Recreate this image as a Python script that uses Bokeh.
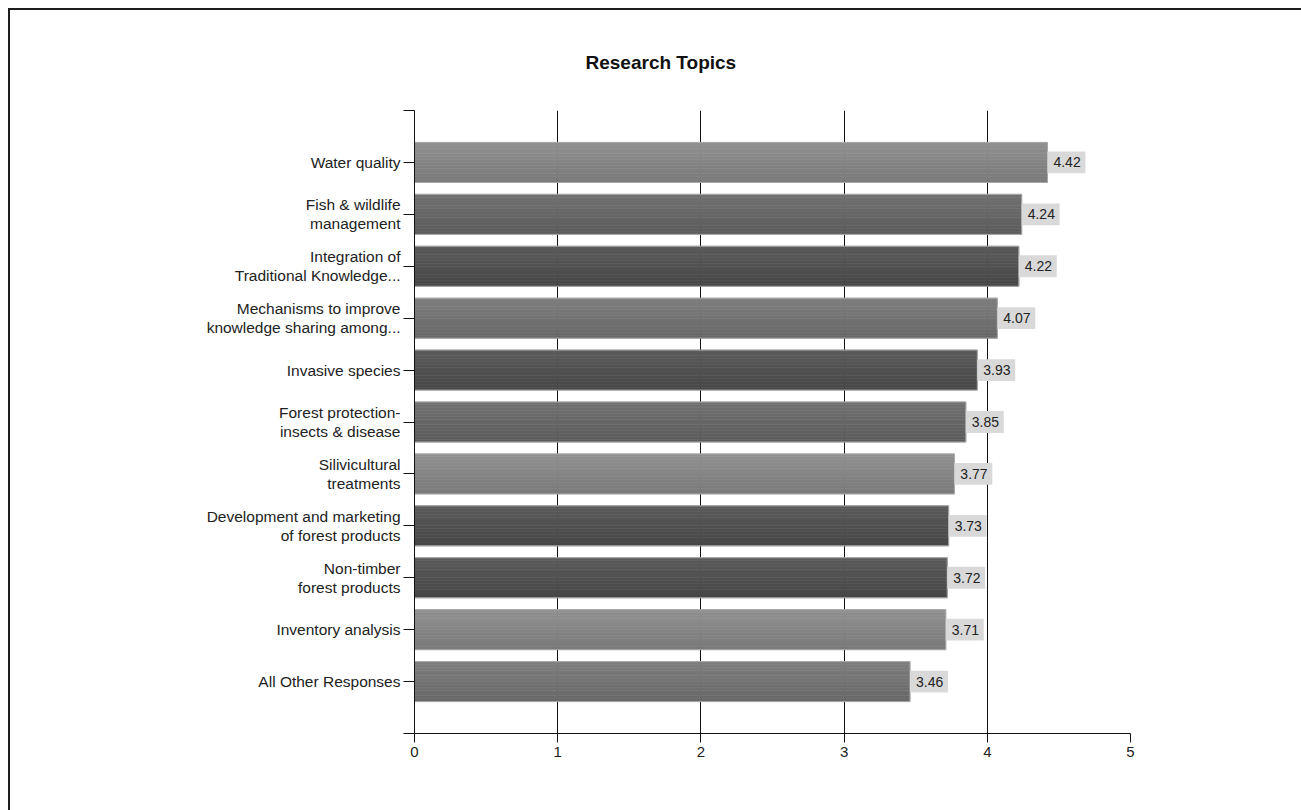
from bokeh.plotting import figure
from bokeh.models import ColumnDataSource, Range1d, FixedTicker
from bokeh.core.properties import value
from bokeh.embed import file_html
from bokeh.resources import INLINE

# Survey topics (top to bottom) and their mean ratings
topics = [
    "Water quality",
    "Fish & wildlife\nmanagement",
    "Integration of\nTraditional Knowledge...",
    "Mechanisms to improve\nknowledge sharing among...",
    "Invasive species",
    "Forest protection-\ninsects & disease",
    "Silivicultural\ntreatments",
    "Development and marketing\nof forest products",
    "Non-timber\nforest products",
    "Inventory analysis",
    "All Other Responses",
]
scores = [4.42, 4.24, 4.22, 4.07, 3.93, 3.85, 3.77, 3.73, 3.72, 3.71, 3.46]
x_ticks = [0, 1, 2, 3, 4, 5]

# bar shading: (top colour, bottom colour) of each bar's vertical gradient
shade = {
    "light": ("#909090", "#7a7a7a"),
    "midlight": ("#7e7e7e", "#686868"),
    "mid": ("#717171", "#5c5c5c"),
    "dark": ("#5b5b5b", "#474747"),
}
bar_shades = ["light", "mid", "dark", "midlight", "dark", "mid",
              "light", "dark", "dark", "light", "midlight"]

FONT = "Liberation Sans"
n = len(topics)
positions = [n - i for i in range(n)]  # first topic at the top
BAR_H = 0.77
STRIPS = 14
TAG_W = 0.265   # width of the value tag, in axis units
TAG_H = 0.42    # height of the value tag, in category slots


def mix(c1, c2, t):
    a = [int(c1[i:i + 2], 16) for i in (1, 3, 5)]
    b = [int(c2[i:i + 2], 16) for i in (1, 3, 5)]
    return "#" + "".join(f"{round(a[j] + (b[j] - a[j]) * t):02x}" for j in range(3))


# gradient strips for each bar
strip = dict(y=[], right=[], color=[])
for pos, val, sh in zip(positions, scores, bar_shades):
    top, bottom = shade[sh]
    for k in range(STRIPS):
        t = k / (STRIPS - 1)
        strip["y"].append(pos + BAR_H / 2 - (k + 0.5) * BAR_H / STRIPS)
        strip["right"].append(val)
        strip["color"].append(mix(top, bottom, t))
strip_src = ColumnDataSource(strip)

bars = ColumnDataSource(dict(
    y=positions,
    right=scores,
    tag_right=[v + TAG_W for v in scores],
    label=[f"{v:.2f}" for v in scores],
))

p = figure(
    output_backend="svg",
    toolbar_location=None,
    frame_width=716,
    frame_height=623,
    min_border_left=404,
    min_border_right=171,
    min_border_top=100,
    min_border_bottom=77,
    x_range=Range1d(0, 5),
    y_range=Range1d(0, n + 1),
    title="Research Topics",
)
p.styles = {
    "margin-left": "8px",
    "margin-top": "8px",
    "border-left": "2px solid #1e1e1e",
    "border-top": "2px solid #1e1e1e",
}
p.outline_line_color = None
p.background_fill_color = "white"
p.border_fill_color = "white"

p.title.text_font = FONT
p.title.text_font_size = "19px"
p.title.text_font_style = "bold"
p.title.text_color = "#111111"
p.title.align = "left"
p.title.offset = 171
p.title.standoff = 76

# gradient body, then a thin light outline round each bar
p.hbar(y="y", left=0, right="right", height=BAR_H / STRIPS,
       fill_color="color", line_color="color", line_width=0.6,
       source=strip_src)
p.hbar(y="y", left=0, right="right", height=BAR_H, fill_alpha=0,
       line_color="#a8a8a8", line_width=1, source=bars)

# value tags at the bar ends
p.hbar(y="y", left="right", right="tag_right", height=TAG_H,
       fill_color="#d9d9d9", line_color=None, source=bars)
p.text(
    x="right", y="y", text="label", source=bars,
    text_font=value(FONT), text_font_size="14px", text_color="#222222",
    text_align="left", text_baseline="middle",
    x_offset=6, y_offset=0,
)

# x axis
p.xaxis.ticker = FixedTicker(ticks=x_ticks)
p.xaxis.axis_line_color = "#111111"
p.xaxis.major_tick_line_color = "#111111"
p.xaxis.major_tick_out = 9
p.xaxis.major_tick_in = 0
p.xaxis.minor_tick_line_color = None
p.xaxis.major_label_text_font = FONT
p.xaxis.major_label_text_font_size = "15px"
p.xaxis.major_label_text_color = "#222222"
p.xaxis.major_label_standoff = 4

# y axis with topic labels
p.yaxis.ticker = FixedTicker(ticks=list(range(0, n + 2)))
overrides = {pos: t for pos, t in zip(positions, topics)}
overrides[0] = ""
overrides[n + 1] = ""
p.yaxis.major_label_overrides = overrides
p.yaxis.axis_line_color = "#111111"
p.yaxis.major_tick_line_color = "#111111"
p.yaxis.major_tick_out = 11
p.yaxis.major_tick_in = 0
p.yaxis.minor_tick_line_color = None
p.yaxis.major_label_text_font = FONT
p.yaxis.major_label_text_font_size = "15.5px"
p.yaxis.major_label_text_line_height = 1.1
p.yaxis.major_label_text_color = "#222222"
p.yaxis.major_label_standoff = 3

p.xgrid.grid_line_color = "#111111"
p.xgrid.grid_line_width = 1
p.ygrid.grid_line_color = None

open("out.html", "w").write(file_html(p, INLINE))
